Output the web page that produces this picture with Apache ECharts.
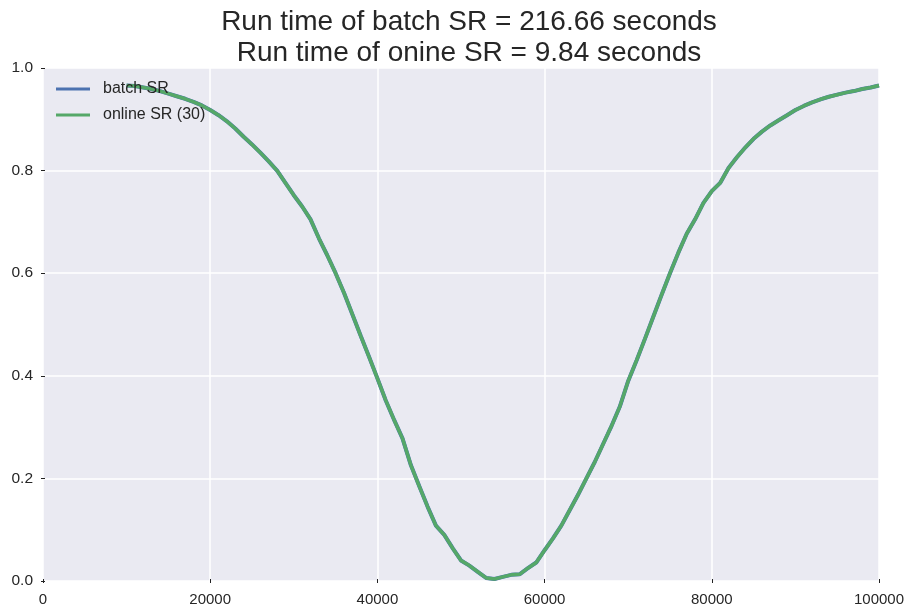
<!DOCTYPE html>
<html><head><meta charset="utf-8">
<script src="https://cdn.jsdelivr.net/npm/echarts@6/dist/echarts.min.js"></script>
<style>html,body{margin:0;padding:0;background:#fff}#c{width:909px;height:612px}</style>
</head><body><div id="c"></div>
<script>
var titleLines = ["Run time of batch SR = 216.66 seconds", "Run time of onine SR = 9.84 seconds"];
var seriesNames = ["batch SR", "online SR (30)"];
var xValues = [10000,11000,12000,13000,14000,15000,16000,17000,18000,19000,20000,21000,22000,23000,24000,25000,26000,27000,28000,29000,30000,31000,32000,33000,34000,35000,36000,37000,38000,39000,40000,41000,42000,43000,44000,45000,46000,47000,48000,49000,50000,51000,52000,53000,54000,55000,56000,57000,58000,59000,60000,61000,62000,63000,64000,65000,66000,67000,68000,69000,70000,71000,72000,73000,74000,75000,76000,77000,78000,79000,80000,81000,82000,83000,84000,85000,86000,87000,88000,89000,90000,91000,92000,93000,94000,95000,96000,97000,98000,99000,100000];
var batchSR = [0.966,0.965,0.962,0.959,0.955,0.950,0.945,0.940,0.934,0.927,0.918,0.908,0.896,0.882,0.866,0.851,0.835,0.818,0.800,0.776,0.752,0.730,0.705,0.668,0.635,0.600,0.562,0.520,0.478,0.437,0.395,0.352,0.314,0.278,0.226,0.185,0.145,0.108,0.090,0.064,0.040,0.030,0.018,0.006,0.004,0.008,0.012,0.013,0.025,0.036,0.060,0.083,0.108,0.138,0.168,0.200,0.232,0.267,0.302,0.340,0.390,0.430,0.472,0.515,0.558,0.600,0.640,0.677,0.705,0.737,0.760,0.776,0.805,0.826,0.845,0.862,0.876,0.888,0.898,0.908,0.918,0.926,0.933,0.939,0.944,0.948,0.952,0.955,0.959,0.962,0.966];
var onlineSR = [0.966,0.965,0.962,0.959,0.955,0.950,0.945,0.940,0.934,0.927,0.918,0.908,0.896,0.882,0.866,0.851,0.835,0.818,0.800,0.776,0.752,0.730,0.705,0.668,0.635,0.600,0.562,0.520,0.478,0.437,0.395,0.352,0.314,0.278,0.226,0.185,0.145,0.108,0.090,0.064,0.040,0.030,0.018,0.006,0.004,0.008,0.012,0.013,0.025,0.036,0.060,0.083,0.108,0.138,0.168,0.200,0.232,0.267,0.302,0.340,0.390,0.430,0.472,0.515,0.558,0.600,0.640,0.677,0.705,0.737,0.760,0.776,0.805,0.826,0.845,0.862,0.876,0.888,0.898,0.908,0.918,0.926,0.933,0.939,0.944,0.948,0.952,0.955,0.959,0.962,0.966];

function pairs(xs, ys){ return xs.map(function(x,i){ return [x, ys[i]]; }); }
var FONT = "Liberation Sans, Arial, sans-serif";
var chart = echarts.init(document.getElementById('c'), null, {renderer:'canvas'});
var tickStyle = {show:true, length:2, inside:false, lineStyle:{color:'#222', width:1}};
chart.setOption({
  animation:false,
  backgroundColor:'#ffffff',
  title:{text:titleLines.join('\n'), left:464, textAlign:'center', top:2,
    textStyle:{fontFamily:FONT, fontSize:28, fontWeight:'normal', color:'#262626', lineHeight:31}},
  legend:{show:true, orient:'vertical', left:56, top:81, padding:0, itemWidth:34, itemHeight:14, itemGap:10,
    icon:'path://M0,5.6 L34,5.6 L34,8.4 L0,8.4 Z',
    textStyle:{fontFamily:FONT, fontSize:16, color:'#262626', padding:[0,0,0,8]}, data:seriesNames},
  grid:{left:43, right:30, top:68, bottom:31, show:true, backgroundColor:'#EAEAF2', borderWidth:0},
  xAxis:[{type:'value', min:0, max:100000, interval:20000, position:'bottom',
    axisLine:{show:false}, axisTick:tickStyle,
    splitLine:{show:true, lineStyle:{color:'#ffffff', width:1.5}},
    axisLabel:{fontFamily:FONT, fontSize:15, color:'#262626', margin:11, formatter:function(v){return String(v);}}},
    {type:'value', min:0, max:100000, interval:20000, position:'top',
    axisLine:{show:false}, axisTick:tickStyle, splitLine:{show:false}, axisLabel:{show:false}}],
  yAxis:[{type:'value', min:0, max:1, interval:0.2, position:'left',
    axisLine:{show:false}, axisTick:tickStyle,
    splitLine:{show:true, lineStyle:{color:'#ffffff', width:1.5}},
    axisLabel:{fontFamily:FONT, fontSize:15.5, color:'#262626', margin:10, formatter:function(v){return v.toFixed(1);}}},
    {type:'value', min:0, max:1, interval:0.2, position:'right',
    axisLine:{show:false}, axisTick:tickStyle, splitLine:{show:false}, axisLabel:{show:false}}],
  series:[
    {name:seriesNames[0], type:'line', data:pairs(xValues,batchSR), showSymbol:false, symbol:'none',
      lineStyle:{color:'#4C72B0', width:4}, itemStyle:{color:'#4C72B0'}, z:2},
    {name:seriesNames[1], type:'line', data:pairs(xValues,onlineSR), showSymbol:false, symbol:'none',
      lineStyle:{color:'#55A868', width:3.5}, itemStyle:{color:'#55A868'}, z:3}
  ]
});
</script></body></html>
